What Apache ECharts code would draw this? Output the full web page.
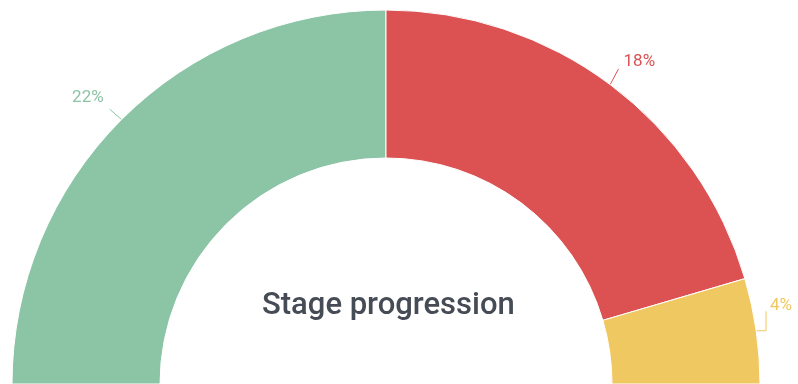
<!DOCTYPE html>
<html>
<head>
<meta charset="utf-8">
<script src="https://cdn.jsdelivr.net/npm/echarts@6/dist/echarts.min.js"></script>
<style>
  html, body { margin: 0; padding: 0; background: #fff; }
  #chart { width: 798px; height: 384px; }
</style>
</head>
<body>
<div id="chart"></div>
<script>
// Stage shares, in percent
const stages = ['Stage A', 'Stage B', 'Stage C'];
const shares = [22, 18, 4];
const colors = ['#8cc4a6', '#dc5253', '#f0c862'];

// nudges applied to each percentage label after the default pie layout
const labelShift = [[-3, -12], [0, -12], [-5, -23]];

const visibleTotal = shares.reduce((a, b) => a + b, 0);

const data = shares.map((v, i) => ({
  name: stages[i],
  value: v,
  itemStyle: { color: colors[i] },
  label: { color: colors[i] },
  labelLine: { lineStyle: { color: colors[i] } }
}));
// filler so the visible stages occupy the upper half only
data.push({
  name: 'rest',
  value: visibleTotal,
  itemStyle: { color: 'rgba(0,0,0,0)', borderWidth: 0 },
  label: { show: false },
  labelLine: { show: false },
  emphasis: { disabled: true },
  tooltip: { show: false }
});

// reconnect the guide line from the slice edge to the shifted label
function guideFor(params, dx, dy) {
  const p0 = params.labelLinePoints[0];
  const r = params.labelRect;
  const left = r.x + dx, top = r.y + dy, right = left + r.width, bottom = top + r.height;
  const onLeft = p0[0] > right;
  if (params.dataIndex === 2) {
    // elbow: out horizontally, then up to the label
    const xTurn = left - 4;
    return [p0, [xTurn, p0[1]], [xTurn, bottom - 3]];
  }
  return onLeft ? [p0, [right + 6, bottom + 3]] : [p0, [left - 5, bottom - 1]];
}

const chart = echarts.init(document.getElementById('chart'), null, { renderer: 'canvas' });
chart.setOption({
  animation: false,
  title: {
    text: 'Stage progression',
    left: 257,
    top: 286,
    textStyle: {
      fontFamily: 'Roboto',
      fontWeight: 500,
      fontSize: 31,
      color: '#464c55'
    }
  },
  series: [{
    type: 'pie',
    center: [386, 384],
    radius: [226, 374],
    startAngle: 180,
    clockwise: true,
    avoidLabelOverlap: false,
    itemStyle: { borderColor: '#ffffff', borderWidth: 1 },
    label: {
      show: true,
      formatter: '{c}%',
      fontFamily: 'Roboto',
      fontSize: 17
    },
    labelLine: {
      show: true,
      length: 14,
      length2: 0,
      lineStyle: { width: 1 }
    },
    labelLayout: function (params) {
      const s = labelShift[params.dataIndex];
      if (!s || !params.labelLinePoints) return {};
      return { dx: s[0], dy: s[1], labelLinePoints: guideFor(params, s[0], s[1]) };
    },
    data: data
  }]
});
</script>
</body>
</html>
